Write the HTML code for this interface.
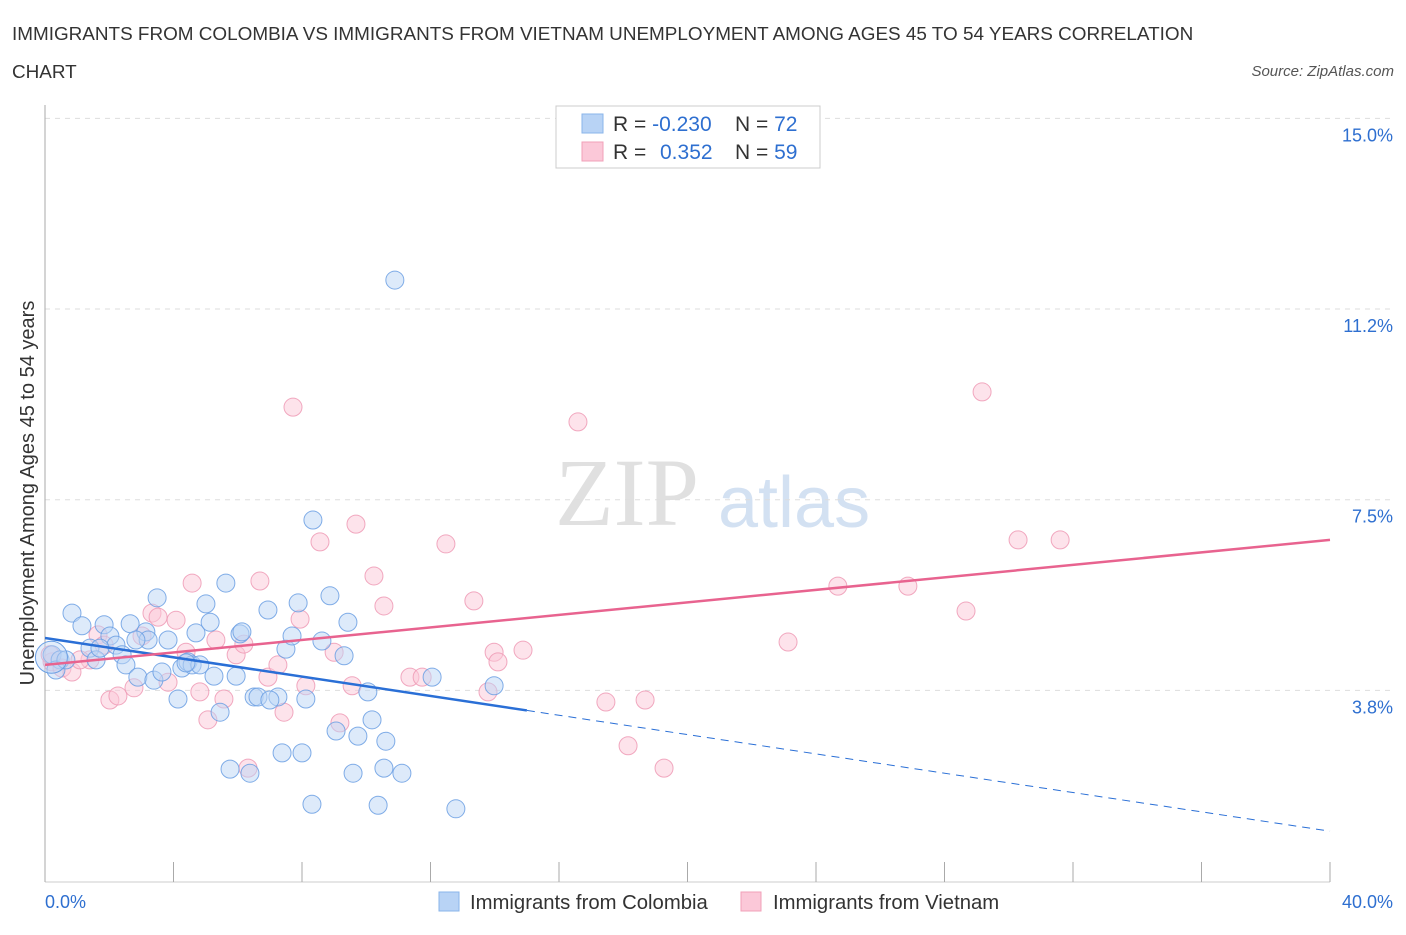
<!DOCTYPE html>
<html><head><meta charset="utf-8"><style>
body{margin:0;background:#fff;font-family:"Liberation Sans",sans-serif;}
</style></head><body>
<svg width="1406" height="930" viewBox="0 0 1406 930" xmlns="http://www.w3.org/2000/svg" id="svg">
<text x="12" y="40" font-size="18.9" fill="#333">IMMIGRANTS FROM COLOMBIA VS IMMIGRANTS FROM VIETNAM UNEMPLOYMENT AMONG AGES 45 TO 54 YEARS CORRELATION</text>
<text x="12" y="78" font-size="18.9" fill="#333">CHART</text>
<text x="1394" y="76" font-size="15" fill="#555" font-style="italic" text-anchor="end">Source: ZipAtlas.com</text>
<text x="555" y="525" font-size="96" fill="#ddd" font-family="Liberation Serif" opacity="0.9">ZIP</text>
<text x="718" y="527" font-size="72" fill="#c9daf0" opacity="0.8">atlas</text>
<text transform="translate(34,493) rotate(-90)" font-size="20" fill="#333" text-anchor="middle">Unemployment Among Ages 45 to 54 years</text>
<g id="grid"></g><g id="axes"></g><g id="pts"></g><g id="trend"></g>
<g>
<rect x="556" y="106" width="264" height="62" fill="#fff" stroke="#ccc"/>
<rect x="582" y="114" width="21" height="19" fill="#b8d3f5" stroke="#8ab4ea"/>
<rect x="582" y="142" width="21" height="19" fill="#fbc8d8" stroke="#f1a0b8"/>
<text x="613" y="131" font-size="21" fill="#333">R = <tspan fill="#2e6fd0">-0.230</tspan></text>
<text x="735" y="131" font-size="21" fill="#333">N = <tspan fill="#2e6fd0">72</tspan></text>
<text x="613" y="159" font-size="21" fill="#333">R = <tspan fill="#2e6fd0" x="660">0.352</tspan></text>
<text x="735" y="159" font-size="21" fill="#333">N = <tspan fill="#2e6fd0">59</tspan></text>
</g>
<g>
<rect x="439" y="892" width="20" height="19" fill="#b8d3f5" stroke="#8ab4ea"/>
<text x="470" y="909" font-size="20.3" fill="#333">Immigrants from Colombia</text>
<rect x="741" y="892" width="20" height="19" fill="#fbc8d8" stroke="#f1a0b8"/>
<text x="773" y="909" font-size="20.3" fill="#333">Immigrants from Vietnam</text>
</g>
</svg>
<script>
const yTicks=[3.75,7.5,11.25,15];
const yTickLabels=["3.8%","7.5%","11.2%","15.0%"];
const xTicks=[0,4,8,12,16,20,24,28,32,36,40];
const colX=[0.22,0.47,0.84,1.15,1.40,1.59,1.84,2.02,2.21,2.40,2.52,2.65,2.89,3.14,3.21,3.39,3.49,3.64,3.83,4.14,4.26,4.45,4.58,4.70,4.82,5.01,5.14,5.26,5.45,5.63,5.76,5.95,6.07,6.13,6.38,6.51,6.63,6.94,7.25,7.38,7.50,7.69,7.88,8.00,8.12,8.31,8.34,8.62,8.87,9.06,9.31,9.43,9.59,9.74,10.05,10.18,10.37,10.55,10.61,10.89,11.11,12.05,12.79,13.98,0.34,0.65,1.71,2.83,4.39,7.00];
const colY=[4.45,4.35,5.27,5.02,4.58,4.35,5.04,4.82,4.64,4.45,4.25,5.06,4.01,4.90,4.74,3.95,5.57,4.11,4.74,3.58,4.19,4.31,4.25,4.88,4.25,5.45,5.09,4.03,3.32,5.86,2.20,4.03,4.86,4.90,2.12,3.62,3.62,5.33,3.62,2.52,4.56,4.82,5.47,2.52,3.58,1.51,7.10,4.72,5.61,2.95,4.43,5.09,2.12,2.85,3.72,3.17,1.49,2.22,2.75,11.82,2.12,4.01,1.42,3.84,4.15,4.35,4.58,4.74,4.29,3.56];
const vieX=[0.22,0.53,0.84,1.40,1.65,1.84,2.02,2.27,2.77,3.02,3.33,3.52,3.83,4.08,4.39,4.58,4.82,5.07,5.32,5.57,5.95,6.19,6.32,6.69,6.94,7.25,7.44,7.72,7.94,8.12,8.56,9.00,9.18,9.56,9.68,10.24,10.55,11.36,11.74,12.48,13.35,13.79,13.98,14.10,14.88,16.59,17.46,18.15,18.68,19.27,23.13,24.68,26.86,28.67,29.17,30.29,31.60,0.16,1.09];
const vieY=[4.31,4.19,4.11,4.35,4.84,4.64,3.56,3.64,3.80,4.82,5.27,5.19,3.91,5.13,4.50,5.86,3.72,3.17,4.74,3.58,4.45,4.66,2.22,5.90,4.01,4.25,3.32,9.32,5.15,3.84,6.67,4.50,3.11,3.84,7.02,6.00,5.41,4.01,4.01,6.63,5.51,3.72,4.50,4.31,4.54,9.03,3.52,2.66,3.56,2.22,4.70,5.80,5.80,5.31,9.62,6.71,6.71,4.45,4.35];
const colTrend=[4.78,0.98];
const colSolidEnd=15.0;
const vieTrend=[4.25,6.71];
const NS="http://www.w3.org/2000/svg";
const X0=45,X1=1330,Y0=881,PY=50.84;
const sx=v=>X0+(v/40)*(X1-X0);
const sy=v=>Y0-v*PY;
function mk(tag,attrs,parent){const e=document.createElementNS(NS,tag);for(const k in attrs)e.setAttribute(k,attrs[k]);document.getElementById(parent).appendChild(e);return e;}
yTicks.forEach((t,i)=>{
 const l=mk('line',{x1:X0,x2:1392,y1:sy(t),y2:sy(t),stroke:'#ddd','stroke-dasharray':'5,5'},'grid');
 
 
 const tx=mk('text',{x:1393,y:sy(t)+23,'font-size':18,fill:'#2e6fd0','text-anchor':'end'},'grid');
 tx.textContent=yTickLabels[i];
 
 
});
const ax=mk('line',{x1:X0,x2:X0,y1:105,y2:882,stroke:'#aaa'},'axes');


const bx=mk('line',{x1:X0,x2:X1,y1:882,y2:882,stroke:'#ccc'},'axes');


xTicks.forEach(t=>{
 const l=mk('line',{x1:sx(t),x2:sx(t),y1:862,y2:882,stroke:'#aaa'},'axes');
 
 
});
const xl0=mk('text',{x:45,y:908,'font-size':18,fill:'#2e6fd0'},'axes');xl0.textContent='0.0%';


const xl1=mk('text',{x:1393,y:908,'font-size':18,fill:'#2e6fd0','text-anchor':'end'},'axes');xl1.textContent='40.0%';


function pts(xs,ys,fill,stroke,name){xs.forEach((x,i)=>{
 const c=mk('circle',{cx:sx(x),cy:sy(ys[i]),r:9,fill:fill,'fill-opacity':0.5,stroke:stroke,'stroke-width':1,'stroke-opacity':0.85},'pts');
 
 
});}
pts(vieX,vieY,'#fbc8d8','#ef9ab5','point-vietnam');
pts(colX,colY,'#bcd5f5','#6b9fe3','point-colombia');
const bigc=mk('circle',{cx:sx(0.2),cy:sy(4.4),r:16,fill:'#b8d3f5','fill-opacity':0.4,stroke:'#6b9fe3','stroke-width':1},'pts');


const cy=x=>colTrend[0]+(colTrend[1]-colTrend[0])*x/40;
const vy=x=>vieTrend[0]+(vieTrend[1]-vieTrend[0])*x/40;
const t1=mk('line',{x1:sx(0),y1:sy(cy(0)),x2:sx(colSolidEnd),y2:sy(cy(colSolidEnd)),stroke:'#2a6fd6','stroke-width':2.5},'trend');


const t2=mk('line',{x1:sx(colSolidEnd),y1:sy(cy(colSolidEnd)),x2:sx(40),y2:sy(cy(40)),stroke:'#2a6fd6','stroke-width':1,'stroke-dasharray':'8,6'},'trend');


const t3=mk('line',{x1:sx(0),y1:sy(vy(0)),x2:sx(40),y2:sy(vy(40)),stroke:'#e8638f','stroke-width':2.5},'trend');


</script>
</body></html>
